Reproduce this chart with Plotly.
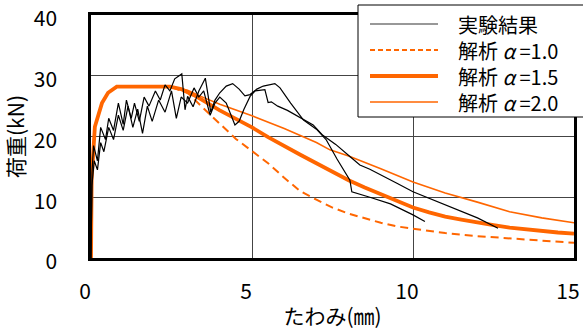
import plotly.graph_objects as go

# --- experiment: specimen 1 ---
exp1_x = [0, 0.03, 0.1, 0.2, 0.3, 0.4, 0.55, 0.7, 0.85, 1.0, 1.15, 1.3, 1.45, 1.6, 1.75, 1.9,
          2.1, 2.3, 2.5, 2.65, 2.8, 3.0, 3.2, 3.35, 3.5, 3.7, 3.85, 4.0, 4.2, 4.35, 4.47, 4.6,
          4.75, 4.94, 5.1, 5.4, 5.5, 5.6, 5.8, 6.1, 6.49, 6.9, 7.2, 7.6, 8.04, 8.35, 8.66, 9.0,
          9.5, 10.0, 10.5, 11.0, 11.5, 12.0, 12.64]
exp1_y = [0, 12, 16, 14.5, 19, 17.5, 21.5, 19.5, 23.5, 21, 25, 21.5, 24.5, 20.5, 25, 22.5,
          26, 24, 27.5, 23, 26.5, 25.5, 28, 26.5, 27.5, 23.5, 25.5, 26.5, 25.5, 23.5, 21.9, 22.5,
          24.5, 26.6, 27.5, 27.7, 25.6, 25.7, 25.0, 24.3, 23.1, 21.9, 20.2, 18.7, 16.7, 15.3, 14.6, 13.7,
          12.3, 10.9, 9.8, 8.7, 7.7, 6.6, 4.9]

# --- experiment: specimen 2 ---
exp2_x = [0, 0.03, 0.08, 0.2, 0.3, 0.45, 0.55, 0.7, 0.85, 1.0, 1.1, 1.25, 1.35, 1.5, 1.65, 1.8,
          2.0, 2.15, 2.3, 2.45, 2.6, 2.82, 2.92, 3.0, 3.17, 3.35, 3.55, 3.72, 3.85, 4.0, 4.2, 4.4,
          4.6, 4.78, 4.94, 5.15, 5.35, 5.56, 5.71, 5.87, 6.2, 6.6, 7.0, 7.3, 7.64, 8.04, 8.1,
          8.66, 9.3, 10.0, 10.37]
exp2_y = [0, 14, 18.5, 16, 21.5, 19.5, 23, 21, 25.5, 22, 26, 23, 25.5, 22.5, 26.5, 25,
          27.5, 26, 28.5, 27.5, 29.5, 30.3, 24.4, 26.6, 24.9, 27.5, 29.6, 24.0, 26.0, 27.2, 28.3, 28.7,
          27.8, 26.7, 26.9, 27.8, 28.3, 28.5, 28.7, 28.0, 25.5, 22.7, 21.2, 19.5, 16.3, 12.8, 10.9,
          10.0, 8.9, 7.1, 6.0]

# --- analysis: common rising branch and plateau ---
rise_x = [0, 0.02, 0.12, 0.34, 0.53, 0.8, 2.45]
rise_y = [0, 13.0, 21.6, 25.5, 27.2, 28.2, 28.2]

# alpha = 1.0
a10_x = [3.0, 3.5, 4.0, 4.5, 5.0, 5.5, 6.0, 6.5, 7.0, 7.5, 8.0, 8.5, 9.0, 9.5, 10.0,
         11.0, 12.0, 13.0, 14.0, 15.0]
a10_y = [27.2, 24.6, 22.1, 19.6, 17.6, 15.6, 13.2, 11.0, 9.6, 8.3, 7.3, 6.5, 5.8, 5.2, 4.8,
         4.1, 3.6, 3.2, 2.8, 2.5]

# alpha = 1.5
a15_x = [2.8, 3.2, 3.6, 4.0, 4.5, 5.0, 5.5, 6.0, 6.5, 7.0, 7.5, 8.0, 8.5, 9.0, 9.5, 10.0,
         10.5, 11.0, 11.5, 12.0, 12.5, 13.0, 13.5, 14.0, 14.5, 15.0]
a15_y = [27.8, 26.8, 25.5, 24.3, 22.9, 21.5, 19.9, 18.4, 17.0, 15.6, 14.2, 12.8, 11.6, 10.5, 9.3, 8.3,
         7.5, 6.8, 6.3, 5.8, 5.4, 5.0, 4.7, 4.4, 4.2, 4.0]

# alpha = 2.0
a20_x = [3.0, 3.5, 4.0, 5.0, 5.56, 6.0, 7.0, 7.42, 8.0, 8.35, 9.0, 10.0, 11.0, 12.0, 13.0,
         14.0, 15.0]
a20_y = [27.6, 26.4, 25.3, 23.4, 22.2, 21.3, 19.0, 17.8, 16.8, 16.1, 14.7, 12.5, 10.7, 9.2, 7.6,
         6.6, 5.8]

x_ticks = [0, 5, 10, 15]
y_ticks = [0, 10, 20, 30, 40]

legend_labels = ["実験結果", "解析 <i>α</i> =1.0", "解析 <i>α</i> =1.5", "解析 <i>α</i> =2.0"]

ORANGE = "#FF6600"
FONT = "Noto Sans CJK JP"

fig = go.Figure()

fig.add_trace(go.Scatter(x=rise_x + a10_x, y=rise_y + a10_y, mode="lines",
                         line=dict(color=ORANGE, width=2, dash="8px,5px")))
fig.add_trace(go.Scatter(x=rise_x + a20_x, y=rise_y + a20_y, mode="lines",
                         line=dict(color=ORANGE, width=1.6)))
fig.add_trace(go.Scatter(x=rise_x + a15_x, y=rise_y + a15_y, mode="lines",
                         line=dict(color=ORANGE, width=3.8)))
fig.add_trace(go.Scatter(x=exp1_x, y=exp1_y, mode="lines",
                         line=dict(color="black", width=1.2)))
fig.add_trace(go.Scatter(x=exp2_x, y=exp2_y, mode="lines",
                         line=dict(color="black", width=1.2)))

# hand-built legend box in the upper right corner
L, R, B, T = 91, 574, 258, 15


def px(xp):
    return (xp - L) / (R - L)


def py(yp):
    return (B - yp) / (B - T)


shapes = [dict(type="rect", xref="paper", yref="paper", layer="above",
               x0=px(358), x1=px(590), y0=py(117), y1=py(5),
               fillcolor="white", line=dict(color="black", width=1))]
row_y = [24, 50, 76, 102]
styles = [dict(color="#333333", width=1.2),
          dict(color=ORANGE, width=2, dash="5px,3px"),
          dict(color=ORANGE, width=3.8),
          dict(color=ORANGE, width=1.6)]
for yy, st in zip(row_y, styles):
    shapes.append(dict(type="line", xref="paper", yref="paper", layer="above",
                       x0=px(370), x1=px(438), y0=py(yy), y1=py(yy), line=st))

# one multi-line text block keeps the rows 26 px apart
annotations = [dict(xref="paper", yref="paper", x=px(456), y=py(63),
                    xanchor="left", yanchor="middle", align="left", showarrow=False,
                    text="<br>".join(legend_labels),
                    font=dict(family=FONT, size=20, color="black"))]

fig.update_layout(
    width=583, height=331,
    margin=dict(l=L, r=583 - R, t=T, b=331 - B),
    paper_bgcolor="white", plot_bgcolor="white",
    showlegend=False,
    font=dict(family=FONT, size=21, color="black"),
    shapes=shapes, annotations=annotations,
)
fig.update_xaxes(range=[0, 15], tickvals=x_ticks, ticks="", ticklabelstandoff=13,
                 ticklabelshift=-6, ticklabeloverflow="allow", automargin=False,
                 showgrid=True, gridcolor="#444444", gridwidth=1, zeroline=False,
                 showline=True, linecolor="black", linewidth=2.5, mirror=True,
                 title=dict(text="たわみ(㎜)", font=dict(family=FONT, size=21), standoff=6))
fig.update_yaxes(range=[0, 40], tickvals=y_ticks, ticks="", ticklabelstandoff=27,
                 ticklabelshift=4, ticklabeloverflow="allow", automargin=False,
                 showgrid=True, gridcolor="#444444", gridwidth=1, zeroline=False,
                 showline=True, linecolor="black", linewidth=2.5, mirror=True,
                 title=dict(text="荷重(kN)", font=dict(family=FONT, size=21), standoff=5))

fig.write_html("out.html")
